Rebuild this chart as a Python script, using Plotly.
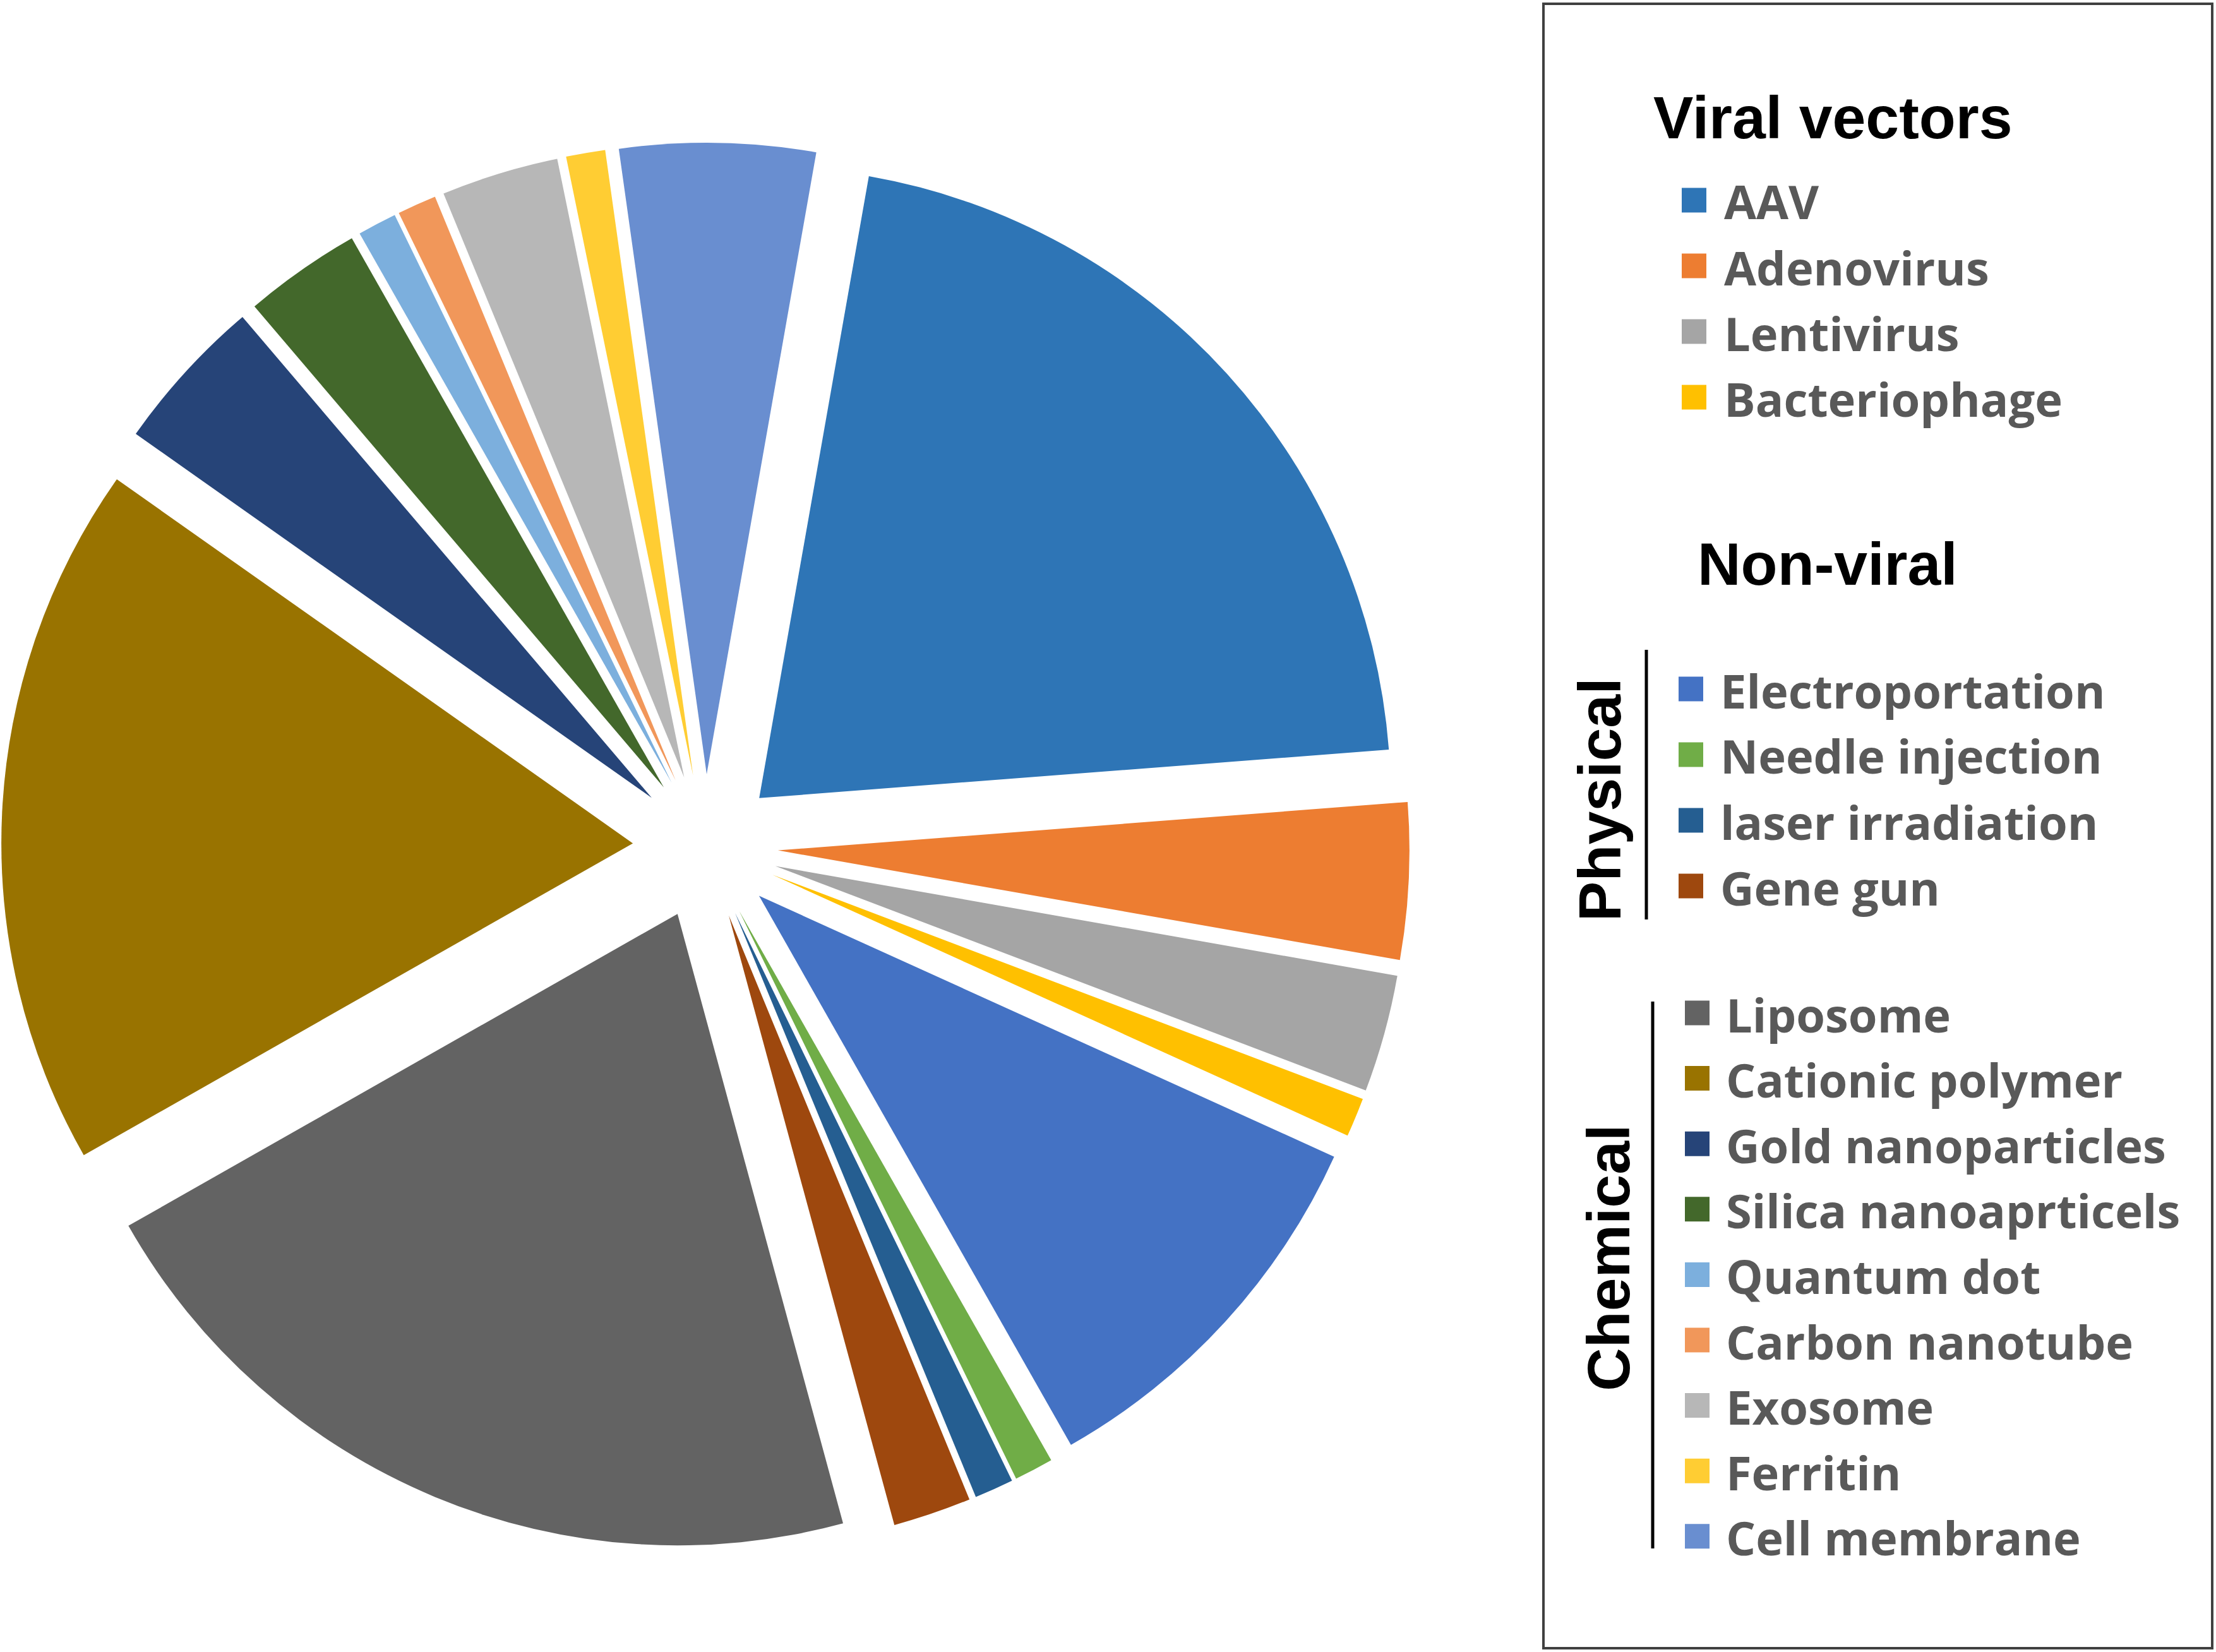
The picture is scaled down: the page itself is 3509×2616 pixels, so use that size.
import plotly.graph_objects as go

# ---------------- data ----------------
labels = ["AAV", "Adenovirus", "Lentivirus", "Bacteriophage",
          "Electroportation", "Needle injection", "laser irradiation", "Gene gun",
          "Liposome", "Cationic polymer", "Gold nanoparticles", "Silica nanoaprticels",
          "Quantum dot", "Carbon nanotube", "Exosome", "Ferritin", "Cell membrane"]
values = [21, 4, 3, 1,
          10, 1, 1, 2,
          21, 18, 4, 3, 1, 1, 3, 1, 5]
colors = ["#2E75B6", "#ED7D31", "#A5A5A5", "#FFC000",
          "#4472C4", "#70AD47", "#255E91", "#9E480E",
          "#636363", "#997300", "#264478", "#43682B",
          "#7CAFDD", "#F1975A", "#B7B7B7", "#FFCD33", "#698ED0"]
viral_items = labels[0:4]
physical_items = labels[4:8]
chemical_items = labels[8:17]
headings = ["Viral vectors", "Non-viral"]
side_labels = ["Physical", "Chemical"]

# ---------------- layout helpers ----------------
W, H = 3509, 2616
def px(x):
    return x / W
def py(y):
    return 1 - y / H

fig = go.Figure()
fig.add_trace(go.Pie(
    labels=labels, values=values, sort=False, direction="clockwise",
    rotation=10, pull=[0.115] * len(values),
    marker=dict(colors=colors, line=dict(width=0)),
    textinfo="none", showlegend=False,
    domain=dict(x=[px(2), px(2232)], y=[py(2456), py(226)]),
))

shapes = []
annotations = []

# legend frame
shapes.append(dict(type="rect", xref="paper", yref="paper",
                   x0=px(2444), x1=px(3503), y0=py(2610), y1=py(6),
                   line=dict(color="#404040", width=4), fillcolor="rgba(0,0,0,0)"))

head_font = dict(family="Liberation Sans", size=95, color="#000000", weight="bold")
item_font = dict(family="Open Sans", size=74, color="#595959", weight="bold")

annotations.append(dict(text=headings[0], x=px(2616), y=py(186), xref="paper", yref="paper",
                        xanchor="left", yanchor="middle", showarrow=False, font=head_font))
annotations.append(dict(text=headings[1], x=px(2686), y=py(893), xref="paper", yref="paper",
                        xanchor="left", yanchor="middle", showarrow=False, font=head_font))

color_of = dict(zip(labels, colors))
SQ = 39
def add_items(items, sq_x, txt_x, y0, dy):
    for i, lab in enumerate(items):
        yc = y0 + dy * i
        shapes.append(dict(type="rect", xref="paper", yref="paper",
                           x0=px(sq_x), x1=px(sq_x + SQ), y0=py(yc + SQ / 2), y1=py(yc - SQ / 2),
                           line=dict(width=0), fillcolor=color_of[lab]))
        annotations.append(dict(text=lab, x=px(txt_x), y=py(yc + 2), xref="paper", yref="paper",
                                xanchor="left", yanchor="middle", showarrow=False, font=item_font))

add_items(viral_items, 2663, 2728, 317, 104)
add_items(physical_items, 2658, 2722, 1091, 104)
add_items(chemical_items, 2668, 2731, 1604, 103.6)

# side labels and bars
annotations.append(dict(text=side_labels[0], x=px(2533), y=py(1266), xref="paper", yref="paper",
                        xanchor="center", yanchor="middle", textangle=-90, showarrow=False, font=head_font))
annotations.append(dict(text=side_labels[1], x=px(2547), y=py(1992), xref="paper", yref="paper",
                        xanchor="center", yanchor="middle", textangle=-90, showarrow=False, font=head_font))
shapes.append(dict(type="line", xref="paper", yref="paper", x0=px(2607), x1=px(2607),
                   y0=py(1029), y1=py(1456), line=dict(color="#000000", width=5)))
shapes.append(dict(type="line", xref="paper", yref="paper", x0=px(2617), x1=px(2617),
                   y0=py(1586), y1=py(2452), line=dict(color="#000000", width=5)))

fig.update_layout(width=W, height=H, margin=dict(l=0, r=0, t=0, b=0),
                  paper_bgcolor="white", plot_bgcolor="white",
                  shapes=shapes, annotations=annotations)

fig.write_html("out.html", config={"displayModeBar": False},
               post_script="document.body.style.margin='0';document.body.style.overflow='hidden';")
